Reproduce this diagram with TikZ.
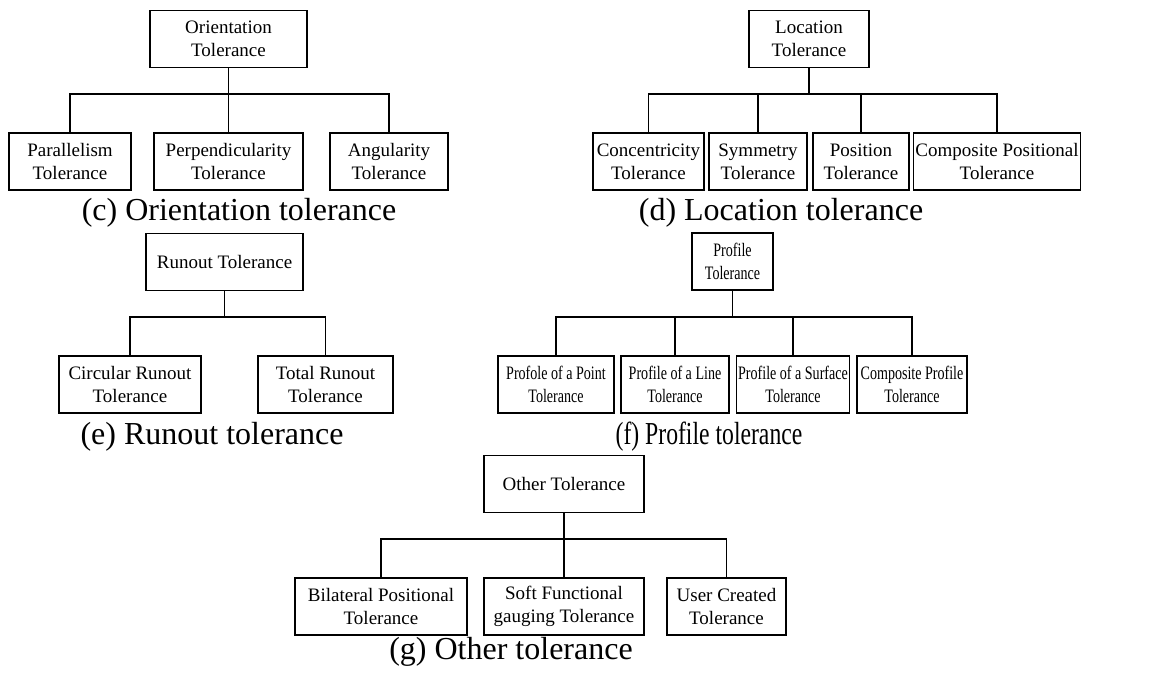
\documentclass[tikz,border=0pt]{standalone}
\usepackage{fontspec}
\setmainfont{Liberation Serif}
\newfontfamily\narrowserif[FakeStretch=0.74]{Liberation Serif}
\usepackage{tikz}
\usetikzlibrary{calc}

\begin{document}
\begin{tikzpicture}[x=0.5pt,y=-0.5pt,line width=0.55pt,
  box/.style={draw,align=center,minimum height=28.5pt,inner sep=1pt,
    font=\fontsize{9.5}{11.5}\selectfont,minimum width=#1},
  nbox/.style={box=#1,font=\narrowserif\fontsize{9.5}{11.5}\selectfont},
  subcap/.style={font=\fontsize{16}{18}\selectfont}]
  \useasboundingbox (0,0) rectangle (1155,677);
  % (c) orientation
  \coordinate (ob) at (0,94);
  \node[box=78.5pt] (ori) at (228.5,39) {Orientation\\Tolerance};
  \node[box=61pt] (par) at (70,161.5) {Parallelism\\Tolerance};
  \node[box=74.5pt] (perp) at (228.5,161.5) {Perpendicularity\\Tolerance};
  \node[box=59pt] (ang) at (389,161.5) {Angularity\\Tolerance};
  \draw (ori.south) -- (ori.south |- ob);
  \draw (par.north) -- (par.north |- ob) -- (ang.north |- ob) -- (ang.north);
  \draw (perp.north) -- (perp.north |- ob);
  \node[subcap] (capc) at (239,213) {(c) Orientation tolerance};
  % (d) location
  \coordinate (lb) at (0,94);
  \node[box=60pt] (loc) at (809,39) {Location\\Tolerance};
  \node[box=55.5pt] (conc) at (648.5,161.5) {Concentricity\\Tolerance};
  \node[box=49pt] (sym) at (758,161.5) {Symmetry\\Tolerance};
  \node[box=48pt] (pos) at (861,161.5) {Position\\Tolerance};
  \node[box=82pt] (cpos) at (997,161.5) {Composite Positional\\Tolerance};
  \draw (loc.south) -- (loc.south |- lb);
  \draw (conc.north) -- (conc.north |- lb) -- (cpos.north |- lb) -- (cpos.north);
  \draw (sym.north) -- (sym.north |- lb);
  \draw (pos.north) -- (pos.north |- lb);
  \node[subcap] (capd) at (781,213) {(d) Location tolerance};
  % (e) runout
  \coordinate (rb) at (0,317);
  \node[box=78.5pt] (run) at (224.5,262) {Runout Tolerance};
  \node[box=71pt] (circ) at (130,384.5) {Circular Runout\\Tolerance};
  \node[box=67.5pt] (tot) at (325.5,384.5) {Total Runout\\Tolerance};
  \draw (run.south) -- (run.south |- rb);
  \draw (circ.north) -- (circ.north |- rb) -- (tot.north |- rb) -- (tot.north);
  \node[subcap] (cape) at (212,437) {(e) Runout tolerance};
  % (f) profile (narrow type)
  \coordinate (pb) at (0,317);
  \node[nbox=40.5pt] (prof) at (732.5,261.5) {Profile\\Tolerance};
  \node[nbox=58pt] (ppt) at (556,384.5) {Profole of a Point\\Tolerance};
  \node[nbox=54pt] (pln) at (675,384.5) {Profile of a Line\\Tolerance};
  \node[nbox=56pt] (psf) at (793,384.5) {Profile of a Surface\\Tolerance};
  \node[nbox=55pt] (cprof) at (912,384.5) {Composite Profile\\Tolerance};
  \draw (prof.south) -- (prof.south |- pb);
  \draw (ppt.north) -- (ppt.north |- pb) -- (cprof.north |- pb) -- (cprof.north);
  \draw (pln.north) -- (pln.north |- pb);
  \draw (psf.north) -- (psf.north |- pb);
  \node[subcap,font=\narrowserif\fontsize{16}{18}\selectfont] (capf) at (709,437) {(f) Profile tolerance};
  % (g) other
  \coordinate (gb) at (0,539);
  \node[box=80pt] (oth) at (564,484) {Other Tolerance};
  \node[box=86pt] (bil) at (381,606.5) {Bilateral Positional\\Tolerance};
  \node[box=80pt] (soft) at (564,606.5) {Soft Functional\\gauging Tolerance};
  \node[box=59.5pt] (user) at (726.5,606.5) {User Created\\Tolerance};
  \draw (oth.south) -- (oth.south |- gb);
  \draw (bil.north) -- (bil.north |- gb) -- (user.north |- gb) -- (user.north);
  \draw (soft.north) -- (soft.north |- gb);
  \node[subcap] (capg) at (511,652) {(g) Other tolerance};
\end{tikzpicture}
\end{document}
